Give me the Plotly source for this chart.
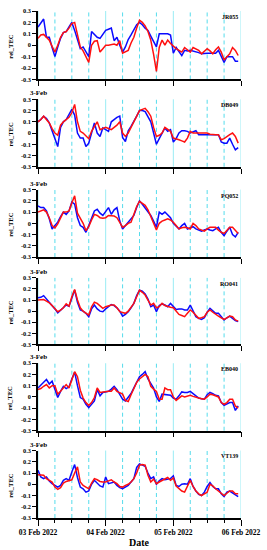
import plotly.graph_objects as go
import pandas as pd

# ---------------- data ----------------
stations = ["JR055", "DB049", "PQ052", "RO041", "EB040", "VT139"]
times = pd.date_range("2022-02-03 00:00", periods=72, freq="h")
y_ticks = [-0.3, -0.2, -0.1, 0, 0.1, 0.2, 0.3]
y_tick_labels = ["-0.3", "-0.2", "-0.1", "0", "0.1", "0.2", "0.3"]
x_ticks = ["2022-02-03", "2022-02-04", "2022-02-05", "2022-02-06"]
x_tick_labels = ["03 Feb 2022", "04 Feb 2022", "05 Feb 2022", "06 Feb 2022"]
panel_tag = "3-Feb"
x_title = "Date"
y_title = "rel_TEC"

jr055_blue = [0.16, 0.2, 0.23, 0.07, 0.07, -0.02, -0.1, -0.015, 0.06, 0.11, 0.12, 0.16, 0.2, 0.13, 0.04, -0.03,
              -0.015, -0.06, -0.1, 0.12, 0.09, 0.07, 0.06, 0.1, 0.13, 0.14, 0.15, 0.04, 0.07, 0.0, -0.06, -0.015,
              0.05, 0.09, 0.14, 0.18, 0.2, 0.18, 0.15, 0.13, 0.08, 0.03, -0.015, 0.1, 0.1, 0.1, 0.1, 0.09,
              -0.07, -0.02, -0.05, -0.09, -0.045, -0.05, -0.045, -0.05, -0.06, -0.065, -0.075, -0.07, -0.07, -0.07,
              -0.07, -0.07, -0.045, -0.1, -0.15, -0.1, -0.1, -0.1, -0.14, -0.14]
jr055_red = [0.06, 0.09, 0.095, 0.07, 0.045, -0.01, -0.06, 0.0, 0.07, 0.11, 0.12, 0.15, 0.19, 0.2, 0.1, -0.015,
             -0.05, -0.1, -0.15, 0.0, 0.035, 0.04, -0.06, -0.03, 0.0, 0.0, 0.005, 0.01, 0.0, 0.04, -0.07, -0.06,
             -0.045, 0.02, 0.07, 0.15, 0.22, 0.2, 0.17, 0.12, 0.045, -0.08, -0.23, -0.02, 0.045, 0.0, 0.045, 0.015,
             -0.01, -0.03, -0.045, -0.06, -0.02, -0.04, -0.06, -0.02, -0.03, -0.045, -0.075, -0.05, -0.03, -0.05,
             -0.075, -0.04, -0.015, -0.06, -0.13, -0.1, -0.075, -0.02, -0.045, -0.09]

db049_blue = [0.1, 0.12, 0.15, 0.13, 0.09, 0.015, -0.06, -0.12, 0.05, 0.1, 0.12, 0.16, 0.21, 0.16, 0.0, -0.045,
              -0.045, -0.12, -0.09, 0.0, 0.09, 0.0, -0.03, 0.045, 0.03, 0.015, 0.1, 0.12, 0.14, 0.15, -0.04, -0.075,
              0.02, 0.06, 0.1, 0.15, 0.2, 0.2, 0.19, 0.14, 0.1, 0.0, -0.1, -0.05, 0.0, 0.045, 0.015, 0.03,
              -0.08, -0.05, 0.0, 0.02, 0.02, 0.015, 0.0, 0.01, 0.02, -0.015, -0.015, -0.015, -0.015, -0.015,
              -0.015, -0.01, -0.015, -0.08, -0.09, -0.09, -0.045, -0.1, -0.15, -0.13]
db049_red = [0.1, 0.12, 0.15, 0.12, 0.09, 0.04, 0.0, -0.02, 0.07, 0.1, 0.12, 0.14, 0.18, 0.255, 0.1, 0.015,
             0.0, -0.03, -0.05, 0.015, 0.06, 0.1, 0.03, 0.04, 0.05, 0.04, 0.03, 0.05, 0.07, 0.1, 0.0, -0.03,
             0.0, 0.05, 0.1, 0.15, 0.2, 0.21, 0.22, 0.19, 0.15, 0.05, -0.03, -0.02, 0.0, 0.05, 0.03, 0.015,
             -0.045, -0.05, -0.06, -0.07, -0.08, -0.045, 0.015, 0.0, 0.0, 0.0, 0.0, 0.0, 0.0, -0.01,
             -0.015, -0.015, -0.015, -0.06, -0.05, -0.03, -0.015, 0.0, -0.03, -0.09]

pq052_blue = [0.155, 0.14, 0.14, 0.11, 0.04, -0.05, -0.02, 0.01, 0.06, 0.1, 0.08, 0.11, 0.19, 0.17, 0.05, -0.02,
              -0.035, -0.08, -0.02, 0.05, 0.11, 0.125, 0.09, 0.07, 0.11, 0.14, 0.08, 0.12, 0.14, 0.02, -0.05, -0.02,
              0.0, 0.04, 0.07, 0.14, 0.2, 0.17, 0.14, 0.11, 0.07, 0.02, -0.035, 0.1, 0.08, 0.1, 0.07, 0.05,
              0.0, -0.03, -0.05, -0.02, 0.0, -0.05, -0.04, -0.03, -0.05, -0.06, -0.07, -0.06, -0.05, -0.06,
              -0.065, -0.05, -0.035, -0.08, -0.11, -0.07, -0.035, -0.1, -0.12, -0.08]
pq052_red = [0.1, 0.11, 0.12, 0.1, 0.05, -0.02, -0.04, -0.005, 0.05, 0.1, 0.1, 0.11, 0.18, 0.245, 0.09, 0.04,
             0.0, -0.065, -0.03, 0.03, 0.08, 0.07, 0.05, 0.045, 0.05, 0.07, 0.07, 0.065, 0.05, 0.01, -0.035, -0.02,
             0.0, 0.01, 0.08, 0.15, 0.195, 0.18, 0.16, 0.12, 0.06, 0.0, -0.06, 0.0, 0.02, 0.03, 0.04, 0.03,
             0.01, -0.02, -0.05, -0.04, -0.035, -0.04, -0.05, 0.0, -0.02, -0.05, -0.06, -0.07, -0.05, -0.035,
             -0.035, -0.035, -0.06, -0.08, -0.09, -0.06, -0.035, -0.035, -0.065, -0.09]

ro041_blue = [0.12, 0.125, 0.14, 0.11, 0.09, 0.055, 0.02, -0.015, 0.01, 0.035, 0.055, 0.045, 0.12, 0.19, 0.08, 0.01,
              0.0, -0.02, -0.05, 0.02, 0.055, 0.02, 0.0, -0.005, 0.02, 0.04, 0.06, 0.05, 0.03, 0.0, -0.045, -0.03,
              -0.005, 0.03, 0.07, 0.14, 0.19, 0.18, 0.155, 0.11, 0.04, 0.055, -0.005, 0.05, 0.065, 0.055, 0.04, 0.07,
              0.04, 0.015, 0.02, 0.02, 0.01, 0.01, 0.055, 0.0, -0.05, -0.065, -0.075, -0.06, -0.01, 0.025,
              0.0, -0.02, -0.02, -0.05, -0.08, -0.06, -0.045, -0.065, -0.085, -0.095]
ro041_red = [0.1, 0.1, 0.105, 0.09, 0.075, 0.05, 0.02, -0.005, 0.01, 0.03, 0.065, 0.045, 0.13, 0.195, 0.1, 0.03,
             0.0, -0.02, -0.035, 0.04, 0.08, 0.07, 0.05, 0.025, 0.04, 0.05, 0.055, 0.055, 0.03, -0.005, -0.015, -0.02,
             0.0, 0.03, 0.07, 0.13, 0.19, 0.17, 0.145, 0.1, 0.055, 0.07, 0.03, 0.04, 0.07, 0.05, 0.04, 0.035,
             0.03, -0.005, -0.03, -0.04, -0.05, -0.02, 0.01, -0.01, -0.04, -0.065, -0.06, -0.05, -0.01, 0.01,
             -0.01, -0.03, -0.045, -0.06, -0.075, -0.06, -0.045, -0.05, -0.08, -0.09]

eb040_blue = [0.08, 0.11, 0.13, 0.155, 0.115, 0.14, 0.06, -0.005, 0.05, 0.095, 0.075, 0.09, 0.16, 0.22, 0.1, -0.005,
              -0.02, -0.065, -0.095, -0.06, -0.035, 0.065, 0.01, 0.04, 0.045, 0.05, 0.07, 0.095, 0.065, 0.02, -0.02, -0.035,
              0.0, 0.03, 0.08, 0.13, 0.18, 0.2, 0.225, 0.16, 0.125, 0.08, 0.0, -0.04, 0.025, 0.02, 0.015, 0.015,
              -0.01, -0.02, 0.01, 0.045, 0.04, 0.04, 0.05, 0.03, 0.005, -0.01, -0.015, -0.02, 0.02, 0.04,
              0.03, 0.015, 0.01, -0.05, -0.075, -0.06, -0.05, -0.05, -0.12, -0.08]
eb040_red = [0.065, 0.075, 0.095, 0.11, 0.08, 0.1, 0.1, 0.025, 0.05, 0.08, 0.11, 0.08, 0.16, 0.225, 0.18, 0.06,
             -0.01, -0.05, -0.075, -0.05, -0.005, 0.08, 0.04, 0.045, 0.05, 0.05, 0.05, 0.08, 0.05, 0.035, 0.025, -0.03,
             -0.04, 0.02, 0.07, 0.13, 0.16, 0.18, 0.2, 0.18, 0.095, 0.07, 0.05, -0.02, -0.02, 0.08, 0.065, 0.065,
             0.0, -0.03, -0.01, 0.01, 0.0, 0.005, 0.015, 0.005, -0.005, -0.01, -0.015, -0.02, 0.0, 0.025,
             0.02, 0.01, 0.0, -0.05, -0.065, -0.05, -0.02, -0.02, -0.08, -0.1]

vt139_blue = [0.125, 0.065, 0.05, 0.065, 0.03, 0.005, -0.01, -0.025, -0.01, 0.035, 0.05, 0.035, 0.11, 0.175, 0.06, -0.025,
              -0.04, -0.07, -0.06, 0.0, 0.035, 0.01, -0.015, -0.025, 0.065, 0.005, 0.01, 0.02, -0.01, -0.03, -0.04, -0.025,
              -0.01, 0.02, 0.05, 0.15, 0.18, 0.17, 0.16, 0.1, 0.05, 0.065, 0.0, 0.03, 0.05, 0.04, 0.045, 0.05,
              0.075, -0.01, -0.02, 0.0, 0.005, 0.0, 0.05, -0.02, -0.06, -0.09, -0.1, -0.07, -0.02, 0.015,
              -0.02, -0.04, -0.04, -0.085, -0.11, -0.07, -0.06, -0.075, -0.09, -0.11]
vt139_red = [0.085, 0.085, 0.08, 0.05, 0.035, 0.02, -0.025, -0.045, -0.03, 0.01, 0.025, 0.03, 0.04, 0.1, 0.155, 0.02,
             -0.01, -0.025, -0.04, 0.01, 0.05, 0.04, 0.025, 0.02, 0.02, 0.03, 0.04, 0.02, 0.005, -0.02, -0.025, -0.01,
             0.0, 0.02, 0.05, 0.1, 0.17, 0.175, 0.17, 0.08, 0.02, 0.045, 0.005, 0.02, 0.035, 0.05, 0.06, 0.035,
             0.055, -0.015, -0.04, -0.06, -0.07, -0.01, 0.035, -0.02, -0.06, -0.085, -0.1, -0.085, -0.07, 0.0,
             -0.015, -0.04, -0.06, -0.08, -0.1, -0.08, -0.06, -0.06, -0.085, -0.085]

blue_series = [jr055_blue, db049_blue, pq052_blue, ro041_blue, eb040_blue, vt139_blue]
red_series = [jr055_red, db049_red, pq052_red, ro041_red, eb040_red, vt139_red]

# ---------------- layout ----------------
W, H = 267, 550
L, R, T, B = 38, 23, 7, 32
plot_h = H - T - B
panel_px = [(7, 76), (96, 164), (187, 255), (276, 343), (362, 430), (450, 518)]  # top, bottom in px


def py(px):
    return (H - B - px) / plot_h


FONT = "Liberation Serif, Times New Roman, serif"
BLUE = "#0a0aff"
RED = "#ff1010"
GRID_SOLID = "#9aecf4"
GRID_DASH = "#55dcec"

# guide-line positions every 6 hours (day boundaries drawn solid)
guide_times = pd.date_range(x_ticks[0], x_ticks[-1], freq="6h")

fig = go.Figure()
layout = dict(
    width=W, height=H,
    margin=dict(l=L, r=R, t=T, b=B),
    paper_bgcolor="white", plot_bgcolor="white",
    showlegend=False,
    font=dict(family=FONT, size=6, color="black", weight="bold"),
)
annotations = []
shapes = []
for i in range(6):
    n = "" if i == 0 else str(i + 1)
    xa, ya = "x" + n, "y" + n
    for g in guide_times:
        day = g.hour == 0
        shapes.append(dict(type="line", xref=xa, yref=ya + " domain", x0=g, x1=g, y0=0, y1=1,
                           layer="below",
                           line=dict(color=GRID_SOLID if day else GRID_DASH, width=1,
                                     dash="solid" if day else "4px,3px")))
    fig.add_trace(go.Scatter(x=times, y=blue_series[i], mode="lines",
                             line=dict(color=BLUE, width=1.5), xaxis=xa, yaxis=ya))
    fig.add_trace(go.Scatter(x=times, y=red_series[i], mode="lines",
                             line=dict(color=RED, width=1.5), xaxis=xa, yaxis=ya))
    top, bot = panel_px[i]
    last = i == 5
    layout["xaxis" + n] = dict(
        domain=[0, 1], anchor=ya, range=[x_ticks[0], x_ticks[-1]],
        tickmode="array", tickvals=x_ticks, ticktext=x_tick_labels,
        showticklabels=last, ticks="outside", ticklen=6 if last else 5, tickwidth=1.2,
        tickcolor="black", showline=True, linecolor="black", linewidth=1.5,
        showgrid=False, zeroline=False,
        tickfont=dict(family=FONT, size=7.5, weight="bold"),
        minor=dict(dtick=6 * 3600 * 1000, tick0=x_ticks[0], showgrid=False,
                   ticks="outside" if last else "", ticklen=3, tickcolor="black", tickwidth=1.2),
        **({} if i == 0 else {"matches": "x"}),
    )
    layout["yaxis" + n] = dict(
        domain=[py(bot), py(top)], anchor=xa, range=[-0.3, 0.3],
        tickmode="array", tickvals=y_ticks, ticktext=y_tick_labels,
        ticks="outside", ticklen=4, tickwidth=1.2, tickcolor="black",
        showline=True, linecolor="black", linewidth=1.5,
        showgrid=False, zeroline=False,
        tickfont=dict(family=FONT, size=6.3, weight="bold"),
    )
    # station label
    annotations.append(dict(xref="paper", yref="paper", x=0.997, y=py(top + 6), text=stations[i],
                            showarrow=False, xanchor="right", yanchor="middle",
                            font=dict(family=FONT, size=6, weight="bold")))
    # y title
    annotations.append(dict(xref="paper", yref="paper", x=(10 - L) / (W - L - R), y=py((top + bot) / 2 + 1),
                            text=y_title, showarrow=False, textangle=-90,
                            xanchor="center", yanchor="middle",
                            font=dict(family=FONT, size=6.5, weight="bold")))
    if i > 0:
        annotations.append(dict(xref="paper", yref="paper", x=(39 - L) / (W - L - R), y=py(top - 6),
                                text=panel_tag, showarrow=False, xanchor="center", yanchor="middle",
                                font=dict(family=FONT, size=7, weight="bold")))

annotations.append(dict(xref="paper", yref="paper", x=0.5, y=py(543), text=x_title, showarrow=False,
                        xanchor="center", yanchor="middle",
                        font=dict(family=FONT, size=10, weight="bold")))
layout["annotations"] = annotations
layout["shapes"] = shapes
fig.update_layout(**layout)
fig.write_html("out.html", config={"displayModeBar": False},
               post_script="document.body.style.margin='0';document.body.style.overflow='hidden';")
